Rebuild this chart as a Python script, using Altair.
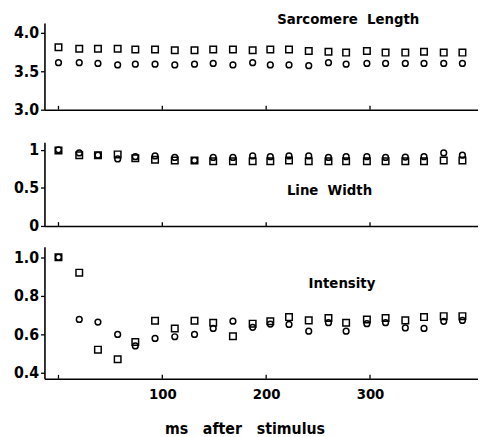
import altair as alt
import pandas as pd

# ---- data ----
ms = [0, 20, 38, 57, 74, 93, 112, 131, 149, 168, 187, 204, 222, 241, 260, 277, 297, 315, 334, 352, 371, 389]

sarc_square = [3.81, 3.79, 3.79, 3.79, 3.78, 3.78, 3.77, 3.77, 3.78, 3.78, 3.77,
               3.78, 3.78, 3.76, 3.75, 3.74, 3.76, 3.74, 3.74, 3.75, 3.74, 3.74]
sarc_circle = [3.61, 3.61, 3.60, 3.58, 3.59, 3.59, 3.58, 3.59, 3.60, 3.58, 3.61,
               3.58, 3.58, 3.57, 3.61, 3.59, 3.60, 3.60, 3.60, 3.60, 3.60, 3.60]

lw_square = [0.99, 0.93, 0.93, 0.94, 0.89, 0.87, 0.86, 0.86, 0.85, 0.85, 0.85,
             0.85, 0.86, 0.85, 0.85, 0.85, 0.85, 0.85, 0.85, 0.85, 0.86, 0.86]
lw_circle = [1.00, 0.96, 0.93, 0.88, 0.91, 0.92, 0.90, 0.86, 0.90, 0.90, 0.92,
             0.91, 0.92, 0.92, 0.90, 0.91, 0.91, 0.90, 0.905, 0.91, 0.96, 0.93]

int_square = [1.00, 0.92, 0.52, 0.47, 0.56, 0.67, 0.63, 0.67, 0.66, 0.59, 0.655,
              0.667, 0.689, 0.672, 0.684, 0.660, 0.677, 0.684, 0.672, 0.689, 0.694, 0.694]
int_circle = [1.00, 0.677, 0.663, 0.599, 0.539, 0.578, 0.587, 0.599, 0.630, 0.668, 0.636,
              0.653, 0.651, 0.616, 0.660, 0.616, 0.655, 0.660, 0.633, 0.630, 0.667, 0.672]

x_ticks = [0, 100, 200, 300]
x_domain = [-13.5, 404]

FONT = "Liberation Sans Narrow, DejaVu Sans Condensed, Roboto Condensed, Arial Narrow, sans-serif"
W = 440


def long_df(sq, ci):
    return pd.DataFrame({
        "ms": ms + ms,
        "series": ["square"] * len(ms) + ["circle"] * len(ms),
        "value": sq + ci,
    })


def panel(sq, ci, ydom, yticks, yfmt, height, label, label_pos, tick_len, bottom=False):
    df = long_df(sq, ci)
    xscale = alt.Scale(domain=x_domain, nice=False, zero=False)
    yscale = alt.Scale(domain=ydom, nice=False, zero=False)
    if bottom:
        xaxis = alt.Axis(values=x_ticks, ticks=False, labelExpr="datum.value == 0 ? '' : datum.label",
                         labelPadding=8, labelFontSize=15,
                         title="ms\u00a0\u00a0\u00a0after\u00a0\u00a0\u00a0stimulus",
                         titleFontSize=16, titlePadding=20, titleX=203,
                         titleAlign="center")
    else:
        xaxis = alt.Axis(values=x_ticks, labels=False, ticks=False, title=None)
    yaxis = alt.Axis(values=yticks, format=yfmt, title=None)

    pts = alt.Chart(df).mark_point(filled=False, color="black", strokeWidth=1.5, opacity=1).encode(
        x=alt.X("ms:Q", scale=xscale, axis=xaxis),
        y=alt.Y("value:Q", scale=yscale, axis=yaxis),
        shape=alt.Shape("series:N", scale=alt.Scale(domain=["square", "circle"], range=["square", "circle"]), legend=None),
        size=alt.Size("series:N", scale=alt.Scale(domain=["square", "circle"], range=[44, 34]), legend=None),
    )
    tdf = pd.DataFrame({"ms": x_ticks})
    ticks = alt.Chart(tdf).mark_rule(color="black", strokeWidth=1.3).encode(
        x="ms:Q",
        y=alt.datum(ydom[0]),
        y2=alt.datum(ydom[0] + tick_len),
    )
    txt = alt.Chart(pd.DataFrame({"t": [label]})).mark_text(
        font=FONT, fontSize=15, fontWeight="bold", color="black", align="center", baseline="middle"
    ).encode(
        x=alt.datum(label_pos[0]),
        y=alt.datum(label_pos[1]),
        text="t:N",
    )
    return alt.layer(pts, ticks, txt).properties(width=W, height=height)


p1 = panel(sarc_square, sarc_circle, [3.0, 4.124], [3.0, 3.5, 4.0], ".1f", 88,
           "Sarcomere\u00a0\u00a0Length", [279, 4.18], 0.05)
p2 = panel(lw_square, lw_circle, [0.0, 1.1], [0.0, 0.5, 1.0], ".1~f", 85,
           "Line\u00a0\u00a0Width", [261, 0.466], 0.05)
p3 = panel(int_square, int_circle, [0.369, 1.055], [0.4, 0.6, 0.8, 1.0], ".1f", 134,
           "Intensity", [273, 0.866], 0.02, bottom=True)

chart = alt.vconcat(p1, alt.vconcat(p2, p3, spacing=13), spacing=24).properties(
    padding={"left": 5, "top": 0, "right": 0, "bottom": 0}
).configure_view(stroke=None).configure_axis(
    domainColor="black", domainWidth=1.6, tickColor="black", tickSize=4, tickWidth=1.3,
    labelFont=FONT, labelFontSize=16, labelFontWeight="bold", labelColor="black", labelPadding=2,
    titleFont=FONT, titleFontWeight="bold", titleColor="black", grid=False,
)

chart.save("out.html", embed_options={"renderer": "svg", "actions": False})
